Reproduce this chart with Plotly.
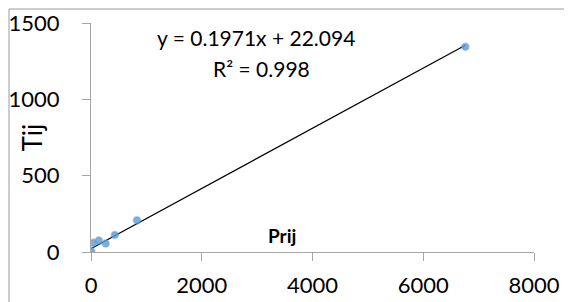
import plotly.graph_objects as go
import numpy as np

# Data
prij = [5, 40, 140, 265, 430, 830, 6760]
tij = [5, 60, 75, 55, 112, 208, 1345]

slope = 0.1971
intercept = 22.094
eq_text = "y = 0.1971x + 22.094"
r2_text = "R² = 0.998"

x_ticks = [0, 2000, 4000, 6000, 8000]
y_ticks = [0, 500, 1000, 1500]

FONT = "Lato"
AXIS_COLOR = "#A6A6A6"
FRAME_COLOR = "#BDBDBD"

# The page body has an 8px margin, so the figure is 8px smaller than the window
W, H = 564, 294
L, R, T, B = 83, 38, 15, 50
PW, PH = W - L - R, H - T - B

fit_x = np.array([min(prij), max(prij)], dtype=float)
fit_y = slope * fit_x + intercept

fig = go.Figure()
fig.add_trace(go.Scatter(
    x=fit_x, y=fit_y, mode="lines",
    line=dict(color="black", width=1.3), hoverinfo="skip", showlegend=False))
fig.add_trace(go.Scatter(
    x=prij, y=tij, mode="markers",
    marker=dict(color="rgba(91,155,213,0.8)", size=7,
                line=dict(color="rgba(91,155,213,0.35)", width=2)),
    showlegend=False))

fig.update_layout(
    width=W, height=H,
    margin=dict(l=L, r=R, t=T, b=B, autoexpand=False),
    paper_bgcolor="white", plot_bgcolor="white",
    font=dict(family=FONT, color="black", size=22),
    xaxis=dict(range=[0, 8000], tickvals=x_ticks, showgrid=False, zeroline=False,
               showline=True, linecolor=AXIS_COLOR, linewidth=1, automargin=False,
               ticks="outside", ticklen=8, tickcolor=AXIS_COLOR,
               tickfont=dict(size=22, family=FONT), ticklabelstandoff=6),
    yaxis=dict(range=[0, 1500], tickvals=y_ticks, showgrid=False, zeroline=False,
               showline=True, linecolor=AXIS_COLOR, linewidth=1, automargin=False,
               ticks="outside", ticklen=8, tickcolor=AXIS_COLOR,
               tickfont=dict(size=22, family=FONT), ticklabelstandoff=18),
)

# y-axis title placed like the reference (overlapping the tick-label column)
fig.add_annotation(x=(23 - L) / PW, y=0.5, xref="paper", yref="paper", text="Tij",
                   xanchor="center", yanchor="middle",
                   textangle=-90, showarrow=False, font=dict(size=26, family=FONT))

fig.add_annotation(x=2980, y=1405, xref="x", yref="y", text=eq_text, showarrow=False,
                   font=dict(size=21, family=FONT))
fig.add_annotation(x=3080, y=1200, xref="x", yref="y", text=r2_text, showarrow=False,
                   font=dict(size=21, family=FONT))
fig.add_annotation(x=3450, y=110, xref="x", yref="y", text="<b>Prij</b>", showarrow=False,
                   font=dict(size=19, family=FONT))

# outer chart frame along the figure's top and left edges
fx = (-L + 1) / PW
fy = 1 + (T - 1) / PH
fig.add_shape(type="line", xref="paper", yref="paper",
              x0=fx, x1=1 + R / PW, y0=fy, y1=fy,
              line=dict(color=FRAME_COLOR, width=1.5))
fig.add_shape(type="line", xref="paper", yref="paper",
              x0=fx, x1=fx, y0=-B / PH, y1=fy,
              line=dict(color=FRAME_COLOR, width=1.5))

fig.write_html("out.html")
